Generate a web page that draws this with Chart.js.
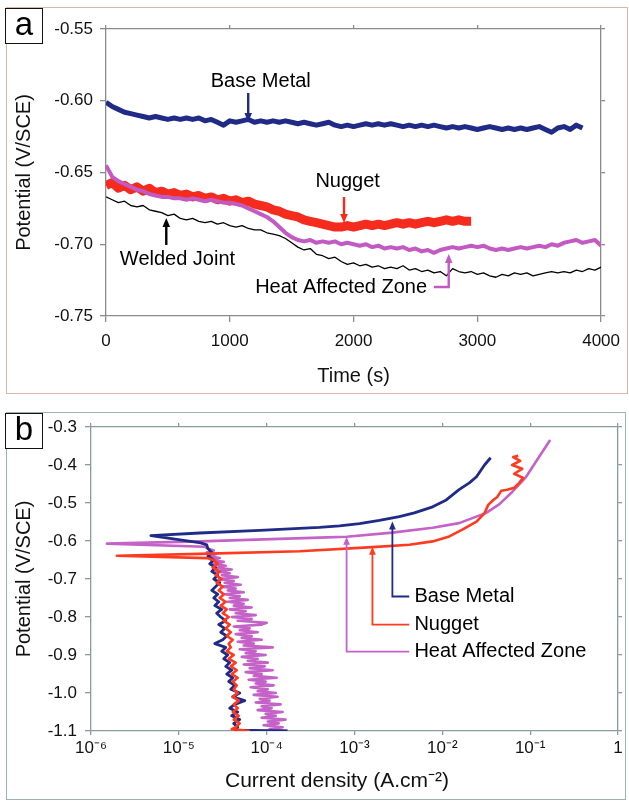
<!DOCTYPE html>
<html>
<head>
<meta charset="utf-8">
<script src="https://cdn.jsdelivr.net/npm/chart.js@4.4.1/dist/chart.umd.min.js"></script>
<style>
  html,body{margin:0;padding:0;background:#fff;}
  body{width:629px;height:801px;position:relative;overflow:hidden;font-family:"Liberation Sans",Arial,sans-serif;}
  .frame{position:absolute;box-sizing:border-box;}
  #frameA{left:6px;top:7px;width:622px;height:387px;border:1.5px solid #dcb6a6;}
  #frameB{left:6px;top:412px;width:620px;height:388px;border:1.5px solid #9db4b6;}
  canvas{position:absolute;left:0;}
  #cA{top:0;}
  #cB{top:400px;}
  .lbl{position:absolute;box-sizing:border-box;width:38px;height:36px;border:1.5px solid #111;background:#fff;
       font-size:33px;line-height:30px;text-align:center;color:#000;}
</style>
</head>
<body>
<div class="frame" id="frameA"></div>
<div class="frame" id="frameB"></div>
<canvas id="cA" width="629" height="395"></canvas>
<canvas id="cB" width="629" height="401"></canvas>
<div class="lbl" style="left:5px;top:8px;">a</div>
<div class="lbl" style="left:5px;top:413px;">b</div>
<script>
// ---------------- Panel (a): open-circuit potential vs time ----------------
const timeS = [0,50,100,150,200,250,300,350,400,450,
  500,550,600,650,700,750,800,850,900,950,
  1000,1050,1100,1150,1200,1250,1300,1350,1400,1450,
  1500,1550,1600,1650,1700,1750,1800,1850,1900,1950,
  2000,2050,2100,2150,2200,2250,2300,2350,2400,2450,
  2500,2550,2600,2650,2700,2750,2800,2850,2900,2950,
  3000,3050,3100,3150,3200,3250,3300,3350,3400,3450,
  3500,3550,3600,3650,3700,3750,3800,3850,3900,3950,4000];

const baseMetalOCP = [-0.601,-0.604,-0.606,-0.608,-0.609,-0.610,-0.611,-0.612,-0.611,-0.612,
  -0.613,-0.612,-0.613,-0.612,-0.613,-0.612,-0.614,-0.613,-0.615,-0.617,
  -0.614,-0.615,-0.614,-0.613,-0.615,-0.614,-0.615,-0.614,-0.615,-0.614,
  -0.615,-0.616,-0.615,-0.616,-0.617,-0.616,-0.615,-0.617,-0.618,-0.617,
  -0.618,-0.617,-0.616,-0.617,-0.616,-0.617,-0.616,-0.617,-0.618,-0.617,
  -0.618,-0.617,-0.618,-0.617,-0.618,-0.619,-0.618,-0.619,-0.618,-0.619,
  -0.620,-0.619,-0.618,-0.619,-0.620,-0.619,-0.620,-0.619,-0.620,-0.619,
  -0.618,-0.620,-0.622,-0.619,-0.618,-0.620,-0.617,-0.619];

const nuggetOCP = [-0.659,-0.657,-0.661,-0.659,-0.662,-0.660,-0.663,-0.661,-0.664,-0.663,
  -0.665,-0.664,-0.666,-0.665,-0.667,-0.666,-0.668,-0.667,-0.669,-0.668,
  -0.670,-0.669,-0.671,-0.670,-0.672,-0.673,-0.674,-0.676,-0.677,-0.679,
  -0.680,-0.681,-0.683,-0.684,-0.685,-0.686,-0.687,-0.688,-0.688,-0.687,
  -0.688,-0.687,-0.686,-0.687,-0.686,-0.687,-0.686,-0.685,-0.686,-0.685,
  -0.686,-0.685,-0.684,-0.685,-0.684,-0.683,-0.684,-0.683,-0.684,-0.684];

const hazOCP = [-0.645,-0.653,-0.656,-0.658,-0.660,-0.662,-0.663,-0.665,-0.666,-0.667,
  -0.667,-0.668,-0.668,-0.669,-0.668,-0.669,-0.670,-0.669,-0.670,-0.671,
  -0.671,-0.672,-0.673,-0.675,-0.677,-0.679,-0.681,-0.684,-0.688,-0.692,
  -0.695,-0.697,-0.698,-0.697,-0.699,-0.698,-0.699,-0.698,-0.700,-0.699,
  -0.700,-0.701,-0.700,-0.702,-0.701,-0.703,-0.702,-0.703,-0.702,-0.704,
  -0.703,-0.705,-0.704,-0.706,-0.704,-0.703,-0.702,-0.703,-0.702,-0.701,
  -0.702,-0.701,-0.703,-0.704,-0.703,-0.704,-0.703,-0.702,-0.703,-0.702,
  -0.701,-0.702,-0.700,-0.701,-0.699,-0.698,-0.697,-0.699,-0.698,-0.697,
  -0.701];

const weldedJointOCP = [-0.667,-0.669,-0.671,-0.670,-0.673,-0.674,-0.673,-0.676,-0.677,-0.678,
  -0.680,-0.679,-0.682,-0.683,-0.682,-0.684,-0.685,-0.684,-0.686,-0.685,
  -0.687,-0.688,-0.687,-0.689,-0.690,-0.690,-0.692,-0.693,-0.694,-0.696,
  -0.699,-0.702,-0.704,-0.703,-0.707,-0.708,-0.710,-0.709,-0.712,-0.714,
  -0.713,-0.715,-0.714,-0.716,-0.715,-0.717,-0.716,-0.717,-0.715,-0.718,
  -0.717,-0.719,-0.718,-0.720,-0.719,-0.722,-0.717,-0.719,-0.720,-0.719,
  -0.721,-0.720,-0.722,-0.723,-0.721,-0.722,-0.720,-0.721,-0.720,-0.722,
  -0.721,-0.720,-0.719,-0.720,-0.719,-0.720,-0.718,-0.719,-0.717,-0.718,
  -0.716];

const timeTicks = [0,1000,2000,3000,4000];
const potentialTicksA = [-0.75,-0.70,-0.65,-0.60,-0.55];

// ---------------- Panel (b): polarization curves ----------------
const baseMetalE = [-1.100,-1.098,-1.09,-1.08,-1.07,-1.06,-1.05,-1.04,-1.03,-1.02,-1.01,-1.00,
  -0.99,-0.98,-0.97,-0.96,-0.95,-0.94,-0.93,-0.92,-0.91,-0.90,-0.89,-0.88,-0.87,-0.86,-0.85,
  -0.84,-0.83,-0.82,-0.81,-0.80,-0.79,-0.78,-0.77,-0.76,-0.75,-0.74,-0.73,-0.72,-0.71,-0.70,
  -0.69,-0.68,-0.67,-0.66,-0.65,-0.64,-0.63,-0.62,-0.61,-0.605,-0.586,
  -0.579,-0.572,-0.564,-0.560,-0.554,-0.546,-0.536,-0.526,-0.510,-0.492,-0.465,-0.447,-0.431,-0.400,-0.381];
const baseMetalI = [1.73e-4,4.44e-5,4.68e-5,4.22e-5,4.93e-5,4.00e-5,4.68e-5,3.80e-5,4.33e-5,5.62e-5,4.11e-5,4.93e-5,
  3.90e-5,4.33e-5,3.70e-5,4.11e-5,3.51e-5,4.00e-5,3.42e-5,3.80e-5,3.25e-5,3.60e-5,3.08e-5,3.42e-5,2.57e-5,3.16e-5,3.51e-5,
  3.00e-5,3.33e-5,2.85e-5,3.42e-5,3.00e-5,2.70e-5,3.08e-5,2.57e-5,2.85e-5,2.50e-5,2.77e-5,2.37e-5,2.63e-5,2.92e-5,2.50e-5,
  2.77e-5,2.37e-5,2.63e-5,2.25e-5,2.50e-5,2.14e-5,2.37e-5,2.14e-5,2.08e-5,1.78e-5,4.81e-6,
  1.73e-5,8.33e-5,3.98e-4,6.76e-4,1.14e-3,1.92e-3,3.24e-3,4.8e-3,7.76e-3,1.11e-2,1.55e-2,2.03e-2,2.45e-2,3.02e-2,3.55e-2];

const nuggetE = [-1.10,-1.095,-1.09,-1.08,-1.07,-1.06,-1.05,-1.04,-1.03,-1.02,-1.01,-1.00,
  -0.99,-0.98,-0.97,-0.96,-0.95,-0.94,-0.93,-0.92,-0.91,-0.90,-0.89,-0.88,-0.87,-0.86,-0.85,
  -0.84,-0.83,-0.82,-0.81,-0.80,-0.79,-0.78,-0.77,-0.76,-0.75,-0.74,-0.73,-0.72,-0.71,-0.70,
  -0.69,-0.68,-0.67,-0.66,-0.65,-0.645,-0.639,
  -0.634,-0.627,-0.616,-0.610,-0.601,-0.588,-0.570,-0.549,-0.527,-0.505,-0.492,-0.484,-0.468,
  -0.465,-0.460,-0.447,-0.434,-0.423,-0.410,-0.400,-0.389,-0.379,-0.376];
const nuggetI = [6.41e-5,4.00e-5,4.44e-5,4.93e-5,4.22e-5,4.81e-5,4.11e-5,4.68e-5,4.22e-5,4.81e-5,4.11e-5,4.68e-5,
  4.22e-5,4.56e-5,4.11e-5,4.68e-5,4.00e-5,4.56e-5,3.90e-5,4.44e-5,3.70e-5,4.22e-5,3.51e-5,3.90e-5,3.70e-5,4.11e-5,3.51e-5,
  3.90e-5,3.42e-5,3.80e-5,3.25e-5,3.70e-5,3.16e-5,3.51e-5,3.00e-5,3.42e-5,2.92e-5,3.25e-5,2.85e-5,3.16e-5,2.70e-5,3.08e-5,
  2.63e-5,2.92e-5,2.43e-5,2.77e-5,2.50e-5,2.08e-5,1.97e-6,
  1.73e-5,2.37e-4,1.6e-3,4.2e-3,7.76e-3,1.2e-2,1.69e-2,2.45e-2,3.02e-2,3.33e-2,3.80e-2,4.22e-2,4.68e-2,
  5.48e-2,6.58e-2,7.50e-2,8.32e-2,6.58e-2,8.11e-2,6.24e-2,7.70e-2,6.41e-2,7.31e-2];

const hazE = [-1.100,-1.095,-1.090,-1.085,-1.080,-1.075,-1.070,-1.065,-1.060,-1.055,
  -1.050,-1.045,-1.040,-1.035,-1.030,-1.025,-1.020,-1.015,-1.010,-1.005,
  -1.000,-0.995,-0.990,-0.985,-0.980,-0.975,-0.970,-0.965,-0.960,-0.955,
  -0.950,-0.945,-0.940,-0.935,-0.930,-0.925,-0.920,-0.915,-0.910,-0.905,
  -0.900,-0.895,-0.890,-0.885,-0.880,-0.875,-0.870,-0.865,-0.860,-0.855,
  -0.850,-0.845,-0.840,-0.835,-0.830,-0.825,-0.820,-0.815,-0.810,-0.805,
  -0.800,-0.795,-0.790,-0.785,-0.780,-0.775,-0.770,-0.765,-0.760,-0.755,
  -0.750,-0.745,-0.740,-0.735,-0.730,-0.725,-0.720,-0.715,-0.710,-0.705,
  -0.700,-0.695,-0.690,-0.685,-0.680,-0.675,-0.670,-0.665,-0.660,-0.655,
  -0.650,-0.645,-0.640,-0.635,-0.630,-0.625,-0.620,-0.615,-0.607,
  -0.601,-0.591,-0.589,-0.578,-0.565,-0.553,-0.526,-0.503,-0.471,-0.431,-0.379,-0.334];
const hazI = [1.73e-4,1.08e-4,1.52e-4,9.24e-5,1.37e-4,1.03e-4,1.64e-4,8.77e-5,1.27e-4,9.74e-5,
  1.52e-4,7.90e-5,1.14e-4,8.77e-5,1.44e-4,7.50e-5,1.08e-4,8.33e-5,1.33e-4,7.12e-5,
  1.27e-4,7.90e-5,1.03e-4,6.58e-5,1.20e-4,7.50e-5,9.74e-5,6.24e-5,1.30e-4,7.12e-5,
  8.77e-5,5.77e-5,1.17e-4,6.41e-5,9.49e-5,5.48e-5,1.03e-4,6.08e-5,7.90e-5,5.20e-5,
  9.74e-5,5.77e-5,7.50e-5,4.93e-5,1.17e-4,5.48e-5,7.12e-5,4.68e-5,8.77e-5,5.20e-5,
  6.75e-5,4.44e-5,7.90e-5,4.93e-5,6.41e-5,4.22e-5,8.77e-5,1.00e-4,4.68e-5,6.75e-5,
  4.00e-5,7.50e-5,4.44e-5,5.77e-5,3.80e-5,6.75e-5,4.22e-5,5.48e-5,3.60e-5,6.08e-5,
  3.80e-5,4.93e-5,3.33e-5,5.48e-5,3.60e-5,4.44e-5,3.08e-5,5.07e-5,3.33e-5,4.22e-5,
  2.85e-5,4.68e-5,3.08e-5,3.80e-5,2.63e-5,4.00e-5,2.77e-5,3.42e-5,2.43e-5,3.25e-5,
  2.31e-5,2.92e-5,2.19e-5,2.63e-5,2.08e-5,2.50e-5,2.14e-5,1.97e-5,1.52e-6,
  1.73e-5,3.98e-4,8.13e-4,2.69e-3,7.76e-3,1.55e-2,3.16e-2,4.47e-2,6.24e-2,9.0e-2,1.26e-1,1.69e-1];

const currentTicks = [1e-6,1e-5,1e-4,1e-3,1e-2,1e-1,1];
const currentTickLabels = ['10\u207B\u2076','10\u207B\u2075','10\u207B\u2074','10\u207B\u00B3','10\u207B\u00B2','10\u207B\u00B9','1'];
const potentialTicksB = [-1.1,-1.0,-0.9,-0.8,-0.7,-0.6,-0.5,-0.4,-0.3];

// ---------------- styling ----------------
const NAVY='#1f2b87', RED='#f42b1d', MAG='#c35ac3', BLACK='#000000';
const REDB='#ff3a1f', MAGB='#c462c8';
const AXIS_A='#8b8b8b', AXIS_B='#8a9b9c';
Chart.defaults.font.family='"Liberation Sans", Arial, sans-serif';
Chart.defaults.color='#111';

function pts(xs, ys){ const n=Math.min(xs.length, ys.length); const out=[]; for(let i=0;i<n;i++) out.push({x:xs[i], y:ys[i]}); return out; }
function setTicks(vals){ return s => { s.ticks = vals.map(v=>({value:v})); }; }

function drawArrowPath(ctx, p, color, width, head){
  ctx.save();
  ctx.strokeStyle=color; ctx.fillStyle=color; ctx.lineWidth=width; ctx.lineJoin='miter';
  const [x2,y2]=p[p.length-1], [x1,y1]=p[p.length-2];
  const a=Math.atan2(y2-y1,x2-x1);
  ctx.beginPath();
  p.forEach((q,i)=>{ if(i===p.length-1){ ctx.lineTo(x2-head*0.7*Math.cos(a), y2-head*0.7*Math.sin(a)); } else if(i===0) ctx.moveTo(q[0],q[1]); else ctx.lineTo(q[0],q[1]); });
  ctx.stroke();
  const w=head*0.42;
  ctx.beginPath();
  ctx.moveTo(x2,y2);
  ctx.lineTo(x2-head*Math.cos(a)+w*Math.sin(a), y2-head*Math.sin(a)-w*Math.cos(a));
  ctx.lineTo(x2-head*Math.cos(a)-w*Math.sin(a), y2-head*Math.sin(a)+w*Math.cos(a));
  ctx.closePath(); ctx.fill();
  ctx.restore();
}

function annotationPlugin(list, lineW, head){
  return {
    id:'annot',
    afterDraw(chart){
      const {ctx, scales:{x, y}} = chart;
      list.forEach(a=>{
        const p = a.path.map(q=>[x.getPixelForValue(q[0]), y.getPixelForValue(q[1])]);
        drawArrowPath(ctx, p, a.color, lineW, head);
        ctx.save();
        ctx.font='20px "Liberation Sans", Arial, sans-serif';
        ctx.fillStyle='#000'; ctx.textBaseline='middle'; ctx.textAlign='left';
        ctx.fillText(a.text, x.getPixelForValue(a.at[0]), y.getPixelForValue(a.at[1]));
        ctx.restore();
      });
    }
  };
}

// annotations (in data coordinates)
const notesA = [
  {text:'Base Metal', color:NAVY, at:[846,-0.5869], path:[[1149,-0.5946],[1149,-0.6148]]},
  {text:'Nugget', color:RED, at:[1692,-0.6566], path:[[1923,-0.6671],[1923,-0.6852]]},
  {text:'Welded Joint', color:BLACK, at:[112,-0.7103], path:[[487,-0.7005],[487,-0.6817]]},
  {text:'Heat Affected Zone', color:MAG, at:[1205,-0.7298], path:[[2649,-0.7298],[2769,-0.7298],[2769,-0.7068]]}
];
const notesB = [
  {text:'Base Metal', color:NAVY, at:[4.81e-3,-0.746], path:[[4.2e-3,-0.746],[2.7e-3,-0.746],[2.7e-3,-0.549]]},
  {text:'Nugget', color:REDB, at:[4.81e-3,-0.820], path:[[4.2e-3,-0.820],[1.6e-3,-0.820],[1.6e-3,-0.615]]},
  {text:'Heat Affected Zone', color:MAGB, at:[4.81e-3,-0.891], path:[[4.2e-3,-0.891],[8.13e-4,-0.891],[8.13e-4,-0.589]]}
];

function axisStyle(color, tl){
  return {
    grid:{display:true, drawOnChartArea:false, drawTicks:true, tickLength:tl, color:color, lineWidth:1.3},
    border:{display:true, color:color, width:1.3}
  };
}

// ---------------- chart A ----------------
new Chart(document.getElementById('cA'), {
  type:'line',
  data:{datasets:[
    {label:'Welded Joint', data:pts(timeS, weldedJointOCP), borderColor:BLACK, borderWidth:1.3, order:0},
    {label:'Heat Affected Zone', data:pts(timeS, hazOCP), borderColor:MAG, borderWidth:4, order:1},
    {label:'Nugget', data:pts(timeS, nuggetOCP), borderColor:RED, borderWidth:9, order:2},
    {label:'Base Metal', data:pts(timeS, baseMetalOCP), borderColor:NAVY, borderWidth:5, order:3}
  ]},
  options:{
    responsive:false, animation:false, devicePixelRatio:1,
    layout:{padding:{top:29, right:22, left:0, bottom:0}},
    plugins:{legend:{display:false}, tooltip:{enabled:false}},
    elements:{point:{radius:0}, line:{tension:0, borderJoinStyle:'round'}},
    scales:{
      x:{type:'linear', position:'bottom', min:0, max:4000, afterBuildTicks:setTicks(timeTicks),
         ticks:{font:{size:17}, color:'#111', padding:9, maxRotation:0, callback:v=>String(v)},
         title:{display:true, text:'Time (s)', font:{size:20}, color:'#111', padding:{top:0,bottom:7}},
         afterFit:s=>{s.height=79;}, ...axisStyle(AXIS_A,6)},
      y:{type:'linear', position:'left', min:-0.75, max:-0.55, afterBuildTicks:setTicks(potentialTicksA),
         ticks:{font:{size:17}, color:'#111', padding:7, callback:v=>v.toFixed(2)},
         title:{display:true, text:'Potential (V/SCE)', font:{size:20}, color:'#111', padding:{top:12,bottom:0}},
         afterFit:s=>{s.width=106;}, ...axisStyle(AXIS_A,6)},
      xTop:{type:'linear', position:'top', min:0, max:4000, afterBuildTicks:setTicks(timeTicks),
         ticks:{display:false}, afterFit:s=>{s.height=0;}, ...axisStyle(AXIS_A,4)},
      yRight:{type:'linear', position:'right', min:-0.75, max:-0.55, afterBuildTicks:setTicks(potentialTicksA),
         ticks:{display:false}, afterFit:s=>{s.width=0;}, ...axisStyle(AXIS_A,4)}
    }
  },
  plugins:[annotationPlugin(notesA, 2.4, 9)]
});

// ---------------- chart B ----------------
new Chart(document.getElementById('cB'), {
  type:'scatter',
  data:{datasets:[
    {label:'Nugget', data:pts(nuggetI, nuggetE), borderColor:REDB, borderWidth:2.6, showLine:true, order:0},
    {label:'Base Metal', data:pts(baseMetalI, baseMetalE), borderColor:NAVY, borderWidth:2.8, showLine:true, order:1},
    {label:'Heat Affected Zone', data:pts(hazI, hazE), borderColor:MAGB, borderWidth:2.6, showLine:true, order:2}
  ]},
  options:{
    responsive:false, animation:false, devicePixelRatio:1,
    layout:{padding:{top:27, right:11, left:0, bottom:0}},
    plugins:{legend:{display:false}, tooltip:{enabled:false}},
    elements:{point:{radius:0}, line:{tension:0, borderJoinStyle:'round'}},
    scales:{
      x:{type:'logarithmic', position:'bottom', min:1e-6, max:1, afterBuildTicks:setTicks(currentTicks),
         ticks:{font:{size:17}, color:'#111', padding:3, maxRotation:0, autoSkip:false, callback:(v,i)=>currentTickLabels[i]},
         title:{display:true, text:'Current density (A.cm\u207B\u00B2)\u00A0\u00A0\u00A0\u00A0\u00A0\u00A0', font:{size:21}, color:'#111', padding:{top:0,bottom:7}},
         afterFit:s=>{s.height=70;}, ...axisStyle(AXIS_B,4)},
      y:{type:'linear', position:'left', min:-1.1, max:-0.3, afterBuildTicks:setTicks(potentialTicksB),
         ticks:{font:{size:17}, color:'#111', padding:8, callback:v=>v.toFixed(1)},
         title:{display:true, text:'Potential (V/SCE)', font:{size:20}, color:'#111', padding:{top:12,bottom:0}},
         afterFit:s=>{s.width=91;}, ...axisStyle(AXIS_B,6)},
      xTop:{type:'logarithmic', position:'top', min:1e-6, max:1, afterBuildTicks:setTicks(currentTicks),
         ticks:{display:false}, afterFit:s=>{s.height=0;}, ...axisStyle(AXIS_B,4)},
      yRight:{type:'linear', position:'right', min:-1.1, max:-0.3, afterBuildTicks:setTicks(potentialTicksB),
         ticks:{display:false}, afterFit:s=>{s.width=0;}, ...axisStyle(AXIS_B,4)}
    }
  },
  plugins:[annotationPlugin(notesB, 1.8, 8)]
});
</script>
</body>
</html>
